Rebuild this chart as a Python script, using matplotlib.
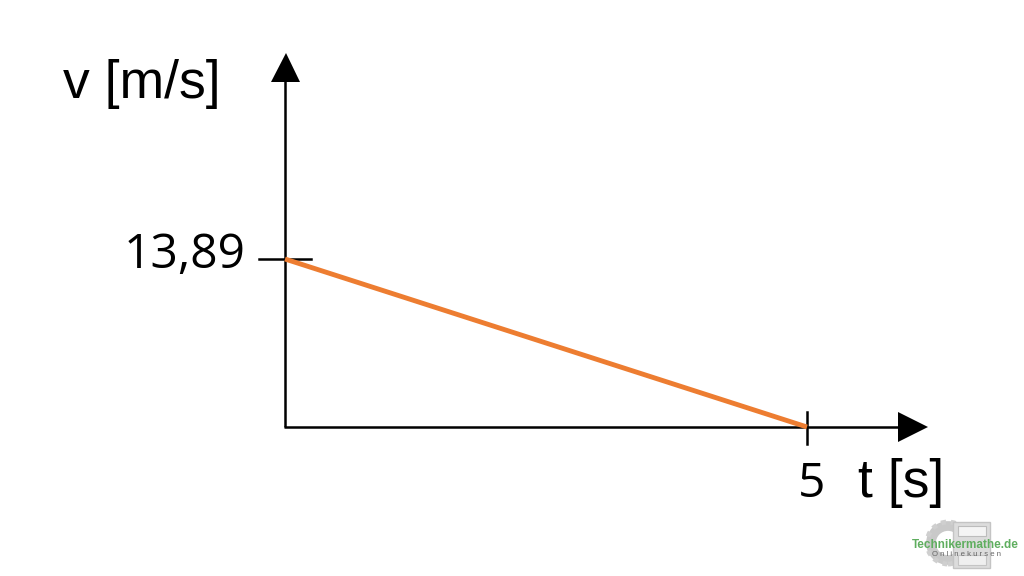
import matplotlib
matplotlib.use('Agg')
import matplotlib.pyplot as plt
from matplotlib.patches import Ellipse, Rectangle

time_s = [0, 5]
speed = [13.89, 0]
y_tick_label = '13,89'
x_tick_label = '5'
x_axis_label = 't [s]'
y_axis_label = 'v [m/s]'
logo_title = 'Technikermathe.de'
logo_subtitle = 'O n l i n e k u r s e n'

fig = plt.figure(figsize=(10.24, 5.76), dpi=100)
ax = fig.add_axes([0, 0, 1, 1])
ax.axis('off')
# pixel-to-data mapping: t=0 at x=285, t=5 at x=807; v=0 at y=427, v=13.89 at y=259
sx = (807 - 285) / 5
sy = (427 - 259) / 13.89
ax.set_xlim(-285 / sx, (1024 - 285) / sx)
ax.set_ylim(-(576 - 427) / sy, 427 / sy)

def X(p):
    return (p - 285) / sx
def Y(p):
    return (427 - p) / sy

ax.plot([X(285), X(285)], [Y(427), Y(75)], color='black', lw=1.8, solid_capstyle='butt')
ax.plot([X(284), X(900)], [Y(427), Y(427)], color='black', lw=1.8, solid_capstyle='butt')
ax.fill([X(271), X(300), X(286)], [Y(82), Y(82), Y(53)], color='black', lw=0)
ax.fill([X(898), X(898), X(928)], [Y(412), Y(442), Y(427)], color='black', lw=0)
ax.plot([X(259), X(311)], [speed[0], speed[0]], color='black', lw=1.8)
ax.plot([time_s[1], time_s[1]], [Y(412), Y(444)], color='black', lw=1.8)
ax.plot(time_s, speed, color='#ed7d31', lw=3.5, solid_capstyle='butt')

sans = ['Liberation Sans', 'DejaVu Sans']
ax.text(X(141.5), Y(84), y_axis_label, fontsize=38.5, fontfamily=sans, ha='center', va='center', color='black')
ax.text(X(184.5), Y(255.5), y_tick_label, fontsize=34.5, fontfamily='Open Sans', ha='center', va='center', color='black')
ax.text(X(811.5), Y(484), x_tick_label, fontsize=34.5, fontfamily='Open Sans', ha='center', va='center', color='black')
ax.text(X(901), Y(483), x_axis_label, fontsize=38.5, fontfamily=sans, ha='center', va='center', color='black')

# logo
ax.add_patch(Ellipse((X(948), Y(543)), 34 / sx, 34 / sy, facecolor='none', edgecolor='#c9c9c9', lw=7))
ax.add_patch(Ellipse((X(948), Y(543)), 42 / sx, 42 / sy, facecolor='none', edgecolor='#cfcfcf', lw=3.5, linestyle=(0, (1, 1))))
ax.add_patch(Rectangle((X(953), Y(568)), 37 / sx, 46 / sy, facecolor='#dcdcdc', edgecolor='#c4c4c4', lw=1))
ax.add_patch(Rectangle((X(958), Y(536)), 28 / sx, 10 / sy, facecolor='#f4f4f4', edgecolor='#bcbcbc', lw=.8))
ax.add_patch(Rectangle((X(958), Y(565)), 28 / sx, 10 / sy, facecolor='#efefef', edgecolor='#c4c4c4', lw=.8))
ax.text(X(965.5), Y(544.5), logo_title, fontsize=8.5, fontfamily=sans, weight='bold', color='#5fae5f', ha='center', va='center')
ax.text(X(966), Y(554), logo_subtitle, fontsize=5.6, fontfamily=sans, color='#666666', ha='center', va='center')

fig.savefig('out.png', dpi=100)
